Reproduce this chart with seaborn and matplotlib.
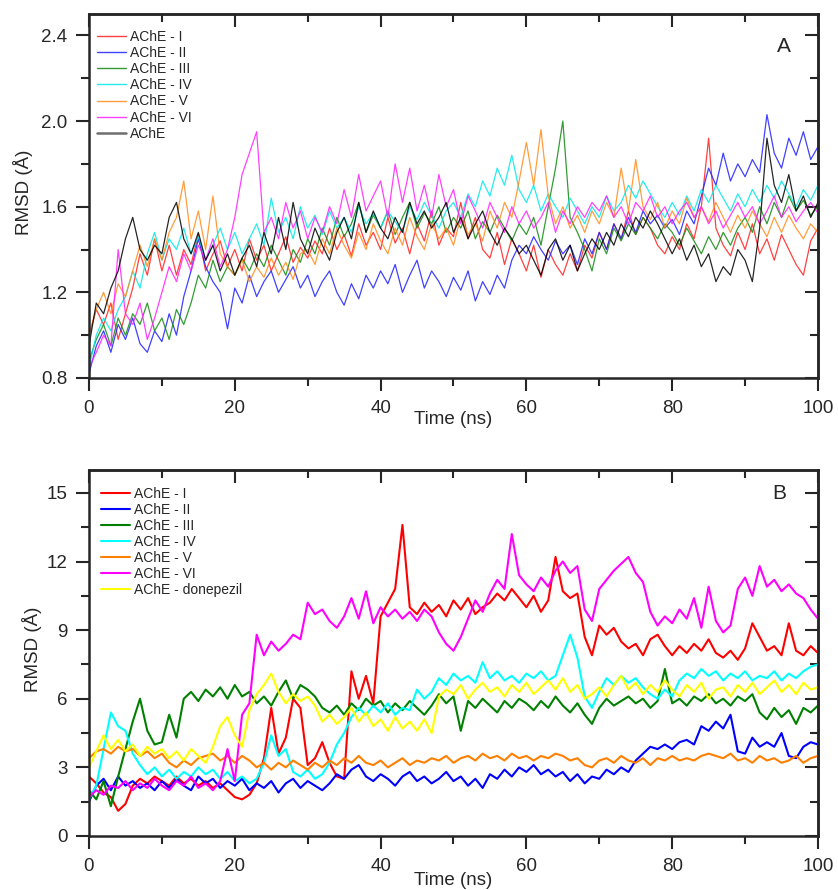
import numpy as np
import pandas as pd
import matplotlib
matplotlib.use("Agg")
import matplotlib.pyplot as plt
import seaborn as sns
from matplotlib.ticker import MultipleLocator

# time axis (ns), one reading per ns
time_ns = list(range(0, 101))

# ---- panel A : protein backbone RMSD ----
a_I = [1.00, 1.12, 1.05, 1.15, 0.98, 1.10, 1.22, 1.38, 1.28, 1.45,
       1.30, 1.42, 1.28, 1.40, 1.33, 1.47, 1.30, 1.38, 1.44, 1.32,
       1.40, 1.30, 1.45, 1.35, 1.42, 1.30, 1.38, 1.46, 1.34, 1.41,
       1.36, 1.44, 1.38, 1.50, 1.40, 1.47, 1.37, 1.52, 1.42, 1.48,
       1.40, 1.55, 1.43, 1.50, 1.38, 1.52, 1.44, 1.58, 1.42, 1.50,
       1.46, 1.62, 1.45, 1.55, 1.40, 1.36, 1.48, 1.33, 1.45, 1.38,
       1.30, 1.42, 1.27, 1.40, 1.33, 1.28, 1.38, 1.30, 1.42, 1.36,
       1.48, 1.40, 1.52, 1.45, 1.58, 1.47, 1.55, 1.50, 1.42, 1.38,
       1.46, 1.40, 1.52, 1.45, 1.60, 1.92, 1.50, 1.42, 1.37, 1.48,
       1.40, 1.52, 1.38, 1.45, 1.35, 1.47, 1.40, 1.33, 1.28, 1.44, 1.50]
a_II = [0.82, 0.95, 1.02, 0.92, 1.05, 0.98, 1.08, 0.96, 0.92, 1.02,
        0.97, 1.10, 1.00, 1.18, 1.30, 1.45, 1.32, 1.25, 1.20, 1.03,
        1.22, 1.15, 1.28, 1.18, 1.25, 1.30, 1.20, 1.26, 1.32, 1.22,
        1.28, 1.18, 1.25, 1.30, 1.20, 1.14, 1.24, 1.17, 1.28, 1.22,
        1.30, 1.24, 1.33, 1.20, 1.28, 1.35, 1.22, 1.30, 1.25, 1.18,
        1.27, 1.21, 1.30, 1.16, 1.25, 1.19, 1.28, 1.22, 1.35, 1.42,
        1.38, 1.46, 1.40, 1.35, 1.44, 1.38, 1.42, 1.33, 1.45, 1.38,
        1.48, 1.40, 1.52, 1.45, 1.55, 1.48, 1.58, 1.52, 1.56, 1.50,
        1.54, 1.47, 1.58, 1.52, 1.65, 1.78, 1.70, 1.85, 1.72, 1.80,
        1.74, 1.82, 1.76, 2.03, 1.85, 1.78, 1.92, 1.84, 1.95, 1.82, 1.88]
a_III = [0.88, 0.98, 1.05, 0.95, 1.08, 1.00, 1.10, 1.05, 1.15, 1.02,
         1.08, 0.98, 1.12, 1.05, 1.15, 1.28, 1.22, 1.35, 1.25, 1.32,
         1.28, 1.36, 1.30, 1.38, 1.32, 1.42, 1.35, 1.28, 1.40, 1.34,
         1.45, 1.38, 1.50, 1.42, 1.55, 1.46, 1.52, 1.62, 1.48, 1.56,
         1.50, 1.58, 1.47, 1.55, 1.62, 1.50, 1.57, 1.52, 1.60, 1.48,
         1.55, 1.50, 1.58, 1.45, 1.53, 1.48, 1.56, 1.50, 1.44, 1.52,
         1.47, 1.55, 1.42, 1.60, 1.78, 2.00, 1.55, 1.48, 1.40, 1.30,
         1.45, 1.38, 1.50, 1.44, 1.52, 1.47, 1.55, 1.50, 1.45, 1.52,
         1.48, 1.42, 1.50, 1.44, 1.38, 1.46, 1.40, 1.48, 1.42, 1.50,
         1.55, 1.48, 1.60, 1.52, 1.62, 1.55, 1.65, 1.58, 1.63, 1.56, 1.60]
a_IV = [0.85, 1.00, 1.08, 1.02, 1.12, 1.18, 1.30, 1.22, 1.38, 1.48,
        1.35, 1.45, 1.40, 1.50, 1.38, 1.46, 1.35, 1.42, 1.50, 1.40,
        1.48, 1.38, 1.45, 1.52, 1.42, 1.64, 1.48, 1.55, 1.45, 1.60,
        1.50, 1.56, 1.47, 1.58, 1.50, 1.55, 1.48, 1.60, 1.52, 1.57,
        1.50, 1.58, 1.53, 1.48, 1.60, 1.54, 1.62, 1.56, 1.50, 1.58,
        1.62, 1.55, 1.66, 1.60, 1.72, 1.65, 1.78, 1.70, 1.84, 1.68,
        1.62, 1.70, 1.58, 1.66, 1.60, 1.55, 1.64, 1.58, 1.52, 1.60,
        1.55, 1.65, 1.58, 1.62, 1.70, 1.64, 1.72, 1.66, 1.60, 1.55,
        1.62, 1.56, 1.65, 1.58, 1.68, 1.62, 1.70, 1.64, 1.58, 1.66,
        1.60, 1.68, 1.62, 1.70, 1.64, 1.72, 1.66, 1.60, 1.68, 1.63, 1.70]
a_V = [1.00, 1.12, 1.20, 1.10, 1.24, 1.18, 1.30, 1.42, 1.32, 1.45,
       1.35, 1.48, 1.55, 1.72, 1.45, 1.58, 1.40, 1.65, 1.38, 1.32,
       1.28, 1.35, 1.25, 1.32, 1.27, 1.36, 1.28, 1.34, 1.26, 1.38,
       1.40, 1.33, 1.45, 1.38, 1.50, 1.42, 1.36, 1.48, 1.40, 1.52,
       1.44, 1.38, 1.50, 1.42, 1.55, 1.46, 1.40, 1.52, 1.45, 1.50,
       1.42, 1.55, 1.47, 1.52, 1.44, 1.58, 1.50, 1.62, 1.55, 1.72,
       1.90, 1.70, 1.96, 1.65, 1.52, 1.60, 1.50, 1.56, 1.48, 1.58,
       1.52, 1.62, 1.55, 1.78, 1.58, 1.82, 1.60, 1.54, 1.62, 1.50,
       1.58, 1.52, 1.64, 1.55, 1.60, 1.53, 1.62, 1.55, 1.48, 1.56,
       1.50, 1.58, 1.52, 1.46, 1.55, 1.48, 1.56, 1.50, 1.45, 1.52, 1.48]
a_VI = [0.85, 0.92, 1.00, 0.95, 1.40, 1.10, 1.05, 1.15, 0.98, 1.08,
        1.20, 1.32, 1.25, 1.38, 1.30, 1.42, 1.35, 1.45, 1.32, 1.40,
        1.55, 1.75, 1.85, 1.95, 1.48, 1.55, 1.45, 1.62, 1.50, 1.58,
        1.45, 1.55, 1.48, 1.60, 1.52, 1.68, 1.55, 1.75, 1.58, 1.65,
        1.72, 1.55, 1.80, 1.62, 1.78, 1.58, 1.70, 1.55, 1.75, 1.60,
        1.68, 1.52, 1.65, 1.58, 1.50, 1.62, 1.55, 1.48, 1.60, 1.52,
        1.58, 1.50, 1.55, 1.62, 1.48, 1.58, 1.52, 1.60, 1.55, 1.62,
        1.58, 1.65, 1.55, 1.60, 1.52, 1.62, 1.58, 1.65, 1.55, 1.60,
        1.52, 1.58, 1.62, 1.55, 1.60, 1.52, 1.58, 1.50, 1.56, 1.62,
        1.55, 1.60, 1.52, 1.58, 1.65, 1.55, 1.60, 1.53, 1.58, 1.62, 1.57]
a_apo = [0.95, 1.15, 1.10, 1.22, 1.30, 1.45, 1.55, 1.40, 1.35, 1.42,
         1.38, 1.55, 1.62, 1.45, 1.38, 1.48, 1.35, 1.42, 1.30, 1.38,
         1.28, 1.36, 1.42, 1.32, 1.48, 1.38, 1.55, 1.40, 1.62, 1.45,
         1.38, 1.50, 1.42, 1.35, 1.48, 1.55, 1.45, 1.62, 1.48, 1.58,
         1.50, 1.45, 1.55, 1.48, 1.62, 1.52, 1.58, 1.50, 1.55, 1.62,
         1.48, 1.55, 1.45, 1.52, 1.58, 1.48, 1.42, 1.50, 1.45, 1.38,
         1.42, 1.35, 1.28, 1.40, 1.45, 1.35, 1.42, 1.30, 1.38, 1.45,
         1.40, 1.48, 1.42, 1.52, 1.46, 1.55, 1.50, 1.58, 1.52, 1.45,
         1.38, 1.45, 1.35, 1.42, 1.32, 1.38, 1.25, 1.32, 1.28, 1.40,
         1.35, 1.25, 1.50, 1.92, 1.70, 1.62, 1.75, 1.58, 1.65, 1.55, 1.62]

# ---- panel B : ligand RMSD ----
b_I = [2.6, 2.3, 1.9, 1.7, 1.1, 1.4, 2.2, 2.5, 2.3, 2.6,
       2.4, 2.2, 2.6, 2.3, 2.5, 2.2, 2.4, 2.1, 2.3, 2.0,
       1.7, 1.6, 1.8, 2.3, 3.4, 5.6, 3.6, 4.3, 6.0, 5.6,
       3.1, 3.4, 4.1, 3.2, 2.6, 2.5, 7.2, 6.0, 7.0, 5.8,
       9.6, 10.2, 10.8, 13.6, 10.0, 9.7, 10.2, 9.8, 10.1, 9.6,
       10.3, 9.9, 10.4, 9.7, 10.0, 10.2, 10.6, 10.3, 10.8, 10.4,
       10.0, 10.5, 9.8, 10.3, 12.2, 10.7, 10.4, 10.6, 8.7, 7.9,
       9.2, 8.8, 9.1, 8.5, 8.2, 8.4, 7.9, 8.6, 8.8, 8.3,
       7.9, 8.3, 8.0, 8.4, 8.1, 8.6, 8.0, 7.8, 8.1, 7.7,
       8.2, 9.3, 8.7, 8.1, 8.3, 7.9, 9.3, 8.1, 7.9, 8.3, 8.0]
b_II = [1.5, 2.2, 2.5, 2.0, 2.6, 2.2, 2.4, 2.1, 2.3, 2.0,
        2.4, 2.1, 2.5, 2.2, 2.0, 2.6, 2.3, 2.5, 2.1, 2.4,
        2.2, 2.5, 2.0, 2.3, 2.1, 2.4, 1.9, 2.3, 2.5, 2.1,
        2.4, 2.2, 2.0, 2.3, 2.7, 2.5, 2.9, 3.1, 2.6, 2.4,
        2.7, 2.5, 2.2, 2.6, 2.8, 2.4, 2.6, 2.3, 2.5, 2.8,
        2.4, 2.6, 2.2, 2.5, 2.1, 2.7, 2.5, 2.9, 2.6, 3.0,
        2.8, 3.1, 2.7, 2.9, 2.6, 2.8, 2.4, 2.7, 2.3, 2.6,
        2.5, 2.9, 2.7, 3.0, 2.8, 3.3, 3.6, 3.9, 3.8, 4.0,
        3.8, 4.1, 4.2, 4.0, 4.8, 4.6, 5.0, 4.7, 5.3, 3.7,
        3.6, 4.3, 3.9, 4.1, 3.9, 4.5, 3.5, 3.4, 3.9, 4.1, 4.0]
b_III = [2.0, 1.6, 2.4, 1.3, 2.6, 3.8, 5.0, 6.0, 4.6, 4.0,
         4.1, 5.3, 4.3, 6.0, 6.3, 5.9, 6.4, 6.1, 6.5, 6.0,
         6.6, 6.1, 6.3, 5.8, 6.1, 5.7, 6.3, 6.8, 6.0, 6.6,
         6.4, 6.1, 5.6, 5.4, 5.7, 5.3, 5.8, 5.5, 6.0, 5.7,
         5.9, 5.4, 5.8, 5.5, 5.9, 5.6, 5.3, 5.7, 6.2, 5.8,
         6.1, 4.6, 5.9, 5.6, 6.0, 5.7, 5.4, 5.9, 5.6, 6.0,
         5.8, 5.5, 5.9, 5.6, 6.1, 5.7, 5.4, 5.8, 5.3, 4.9,
         5.6, 6.0, 5.7, 5.9, 6.1, 5.8, 6.0, 5.6, 5.9, 7.3,
         5.8, 6.0, 5.7, 6.1, 5.9, 6.2, 5.8, 6.0, 5.7, 6.1,
         5.9, 6.2, 5.4, 5.1, 5.6, 5.2, 5.5, 4.9, 5.6, 5.4, 5.7]
b_IV = [1.6, 2.2, 3.8, 5.4, 4.8, 4.6, 3.6, 3.1, 2.7, 3.0,
        2.6, 2.9, 2.5, 2.8, 2.6, 3.0, 2.7, 2.9, 2.5, 2.8,
        2.4, 2.6, 2.3, 2.5, 3.2, 4.4, 3.5, 3.8, 2.8, 2.6,
        2.9, 2.5, 2.7, 3.2, 4.0, 4.5, 5.2, 5.6, 5.3, 5.7,
        5.4, 5.8, 5.3, 5.6, 5.5, 6.4, 6.0, 6.3, 6.9, 6.6,
        7.1, 6.8, 7.0, 6.7, 7.6, 6.9, 7.2, 6.8, 7.0, 6.7,
        7.1, 6.9, 7.2, 6.8, 7.0, 7.9, 8.8, 7.8, 6.1, 5.6,
        6.3, 6.9, 6.6, 7.0, 6.7, 6.9, 6.5, 6.2, 6.0, 6.4,
        6.1, 6.8, 7.1, 6.9, 7.3, 7.0, 7.2, 6.8, 7.1, 6.9,
        7.2, 6.8, 7.0, 6.9, 7.2, 6.8, 7.1, 6.9, 7.2, 7.4, 7.5]
b_V = [3.4, 3.7, 3.8, 3.6, 3.9, 3.7, 3.8, 3.5, 3.7, 3.4,
       3.6, 3.2, 3.0, 3.3, 3.1, 3.4, 3.5, 3.6, 3.3, 3.5,
       3.2, 3.5, 3.3, 3.0, 3.2, 2.9, 3.2, 3.0, 3.3, 3.1,
       2.9, 3.2, 3.0, 3.3, 3.1, 3.4, 3.2, 3.5, 3.2, 3.1,
       3.3, 3.0, 3.2, 3.4, 3.1, 3.3, 3.2, 3.4, 3.3, 3.5,
       3.2, 3.4, 3.5, 3.3, 3.6, 3.4, 3.5, 3.3, 3.6, 3.4,
       3.5, 3.3, 3.5, 3.4, 3.6, 3.5, 3.3, 3.4, 3.1, 3.0,
       3.3, 3.4, 3.2, 3.5, 3.3, 3.2, 3.4, 3.1, 3.4, 3.3,
       3.5, 3.3, 3.4, 3.3, 3.5, 3.6, 3.5, 3.4, 3.6, 3.3,
       3.4, 3.2, 3.5, 3.3, 3.4, 3.2, 3.3, 3.5, 3.2, 3.4, 3.5]
b_VI = [1.7, 2.0, 1.8, 2.2, 2.1, 2.4, 2.0, 2.3, 2.1, 2.5,
        2.2, 2.0, 2.4, 2.2, 2.6, 2.1, 2.3, 2.0, 2.4, 3.8,
        2.4, 5.3, 5.8, 8.8, 7.9, 8.5, 8.1, 8.4, 8.8, 8.6,
        10.2, 9.7, 9.9, 9.4, 9.1, 9.6, 10.4, 9.5, 10.7, 9.3,
        10.0, 9.6, 9.9, 9.5, 9.8, 9.4, 9.9, 9.6, 8.9, 8.4,
        8.1, 8.7, 9.5, 10.3, 9.8, 10.6, 11.2, 10.8, 13.2, 11.4,
        11.0, 10.7, 11.3, 10.9, 11.6, 12.0, 11.5, 11.8, 9.9, 9.4,
        10.8, 11.2, 11.6, 11.9, 12.2, 11.5, 11.1, 9.8, 9.2, 9.6,
        9.3, 9.9, 9.5, 10.4, 9.1, 10.9, 9.4, 8.9, 9.2, 10.8,
        11.3, 10.5, 11.8, 10.9, 11.2, 10.7, 11.0, 10.6, 10.4, 9.9, 9.5]
b_don = [3.0, 3.7, 4.4, 3.8, 4.2, 3.7, 4.0, 3.5, 3.9, 3.6,
         3.8, 3.4, 3.7, 3.3, 3.8, 3.5, 3.2, 3.9, 4.8, 5.2,
         4.4, 3.9, 5.5, 6.2, 6.6, 7.1, 6.3, 5.8, 6.2, 5.9,
         6.1, 5.7, 5.0, 5.3, 4.9, 5.2, 5.6, 5.0, 5.4, 4.8,
         5.1, 4.6, 5.2, 4.7, 5.0, 4.6, 5.1, 4.5, 6.1, 6.4,
         6.2, 6.6, 6.0, 6.4, 6.7, 6.3, 6.5, 6.1, 6.6, 6.3,
         6.7, 6.2, 6.5, 6.8, 6.4, 6.9, 6.3, 6.6, 6.0, 6.2,
         6.5, 6.1, 6.6, 7.0, 6.4, 6.7, 6.2, 6.6, 6.3, 6.8,
         6.4, 6.1, 6.6, 6.3, 6.7, 6.0, 6.4, 6.5, 6.1, 6.6,
         6.3, 6.7, 6.2, 6.5, 6.8, 6.3, 6.6, 6.2, 6.7, 6.4, 6.5]

labels_a = ["AChE - I", "AChE - II", "AChE - III", "AChE - IV",
            "AChE - V", "AChE - VI", "AChE"]
labels_b = ["AChE - I", "AChE - II", "AChE - III", "AChE - IV",
            "AChE - V", "AChE - VI", "AChE - donepezil"]
colors_a = ["#ff2020", "#2020ff", "#108a10", "#00e8e8", "#ff8c1a", "#ff20ff", "#000000"]
colors_b = ["#ff0000", "#0000ff", "#008000", "#00ffff", "#ff7f00", "#ff00ff", "#ffff00"]


def long_df(series, labels):
    frames = []
    for vals, lab in zip(series, labels):
        frames.append(pd.DataFrame({"time": time_ns, "rmsd": vals, "system": lab}))
    return pd.concat(frames, ignore_index=True)


df_a = long_df([a_I, a_II, a_III, a_IV, a_V, a_VI, a_apo], labels_a)
df_b = long_df([b_I, b_II, b_III, b_IV, b_V, b_VI, b_don], labels_b)

sns.set_style("ticks")
plt.rcParams["font.family"] = ["Liberation Sans", "DejaVu Sans"]

fig = plt.figure(figsize=(8.38, 8.90), dpi=100)
ax_a = fig.add_axes([0.1062, 0.5753, 0.8699, 0.4090])
ax_b = fig.add_axes([0.1062, 0.0607, 0.8699, 0.4112])


def style_axis(ax, ylim, ymajor, yminor):
    ax.set_xlim(0, 100)
    ax.set_ylim(*ylim)
    ax.xaxis.set_major_locator(MultipleLocator(20))
    ax.xaxis.set_minor_locator(MultipleLocator(10))
    ax.yaxis.set_major_locator(MultipleLocator(ymajor))
    ax.yaxis.set_minor_locator(MultipleLocator(yminor))
    ax.tick_params(which="major", direction="out", length=9.5, width=1.5,
                   labelsize=13.5, pad=6, top=False, right=False)
    ax.tick_params(which="minor", direction="out", length=5.5, width=1.5,
                   top=False, right=False)
    for sp in ax.spines.values():
        sp.set_linewidth(1.8)
        sp.set_visible(True)
    # mirrored inward ticks on top and right
    top = ax.secondary_xaxis("top")
    top.xaxis.set_major_locator(MultipleLocator(20))
    top.xaxis.set_minor_locator(MultipleLocator(10))
    top.tick_params(which="major", direction="in", length=9.5, width=1.5, labeltop=False)
    top.tick_params(which="minor", direction="in", length=5.5, width=1.5)
    right = ax.secondary_yaxis("right")
    right.yaxis.set_major_locator(MultipleLocator(ymajor))
    right.yaxis.set_minor_locator(MultipleLocator(yminor))
    right.tick_params(which="major", direction="in", length=9.5, width=1.5, labelright=False)
    right.tick_params(which="minor", direction="in", length=5.5, width=1.5)
    for s2 in (top, right):
        for sp in s2.spines.values():
            sp.set_linewidth(1.8)


# panel A
sns.lineplot(data=df_a, x="time", y="rmsd", hue="system", hue_order=labels_a,
             palette=colors_a, linewidth=0.9, alpha=0.85, estimator=None,
             ax=ax_a)
style_axis(ax_a, (0.8, 2.5), 0.4, 0.2)
ax_a.yaxis.set_major_formatter(plt.FormatStrFormatter("%.1f"))
ax_a.set_xlabel("Time (ns)", fontsize=13.5)
ax_a.set_ylabel("RMSD (Å)", fontsize=13.5)
ax_a.xaxis.set_label_coords(0.5, -0.09)
ax_a.yaxis.set_label_coords(-0.077, 0.51)
ax_a.text(0.953, 0.912, "A", transform=ax_a.transAxes, fontsize=15,
          ha="center", va="center")
leg = ax_a.legend(loc="upper left", bbox_to_anchor=(0.003, 0.971),
                  frameon=False, fontsize=10, handlelength=2.1,
                  handletextpad=0.3, labelspacing=0.15, borderaxespad=0)
for h in leg.get_lines():
    h.set_linewidth(1.0)
leg.get_lines()[-1].set_color("#555555")
leg.get_lines()[-1].set_linewidth(1.8)

# panel B
sns.lineplot(data=df_b, x="time", y="rmsd", hue="system", hue_order=labels_b,
             palette=colors_b, linewidth=1.5, estimator=None, ax=ax_b)
style_axis(ax_b, (0, 16), 3, 1.5)
ax_b.set_xlabel("Time (ns)", fontsize=13.5)
ax_b.set_ylabel("RMSD (Å)", fontsize=13.5)
ax_b.xaxis.set_label_coords(0.5, -0.099)
ax_b.yaxis.set_label_coords(-0.064, 0.51)
ax_b.text(0.947, 0.937, "B", transform=ax_b.transAxes, fontsize=15,
          ha="center", va="center")
leg = ax_b.legend(loc="upper left", bbox_to_anchor=(0.009, 0.97),
                  frameon=False, fontsize=10, handlelength=2.1,
                  handletextpad=0.3, labelspacing=0.15, borderaxespad=0)
for h in leg.get_lines():
    h.set_linewidth(1.5)

fig.savefig("out.png", dpi=100)
